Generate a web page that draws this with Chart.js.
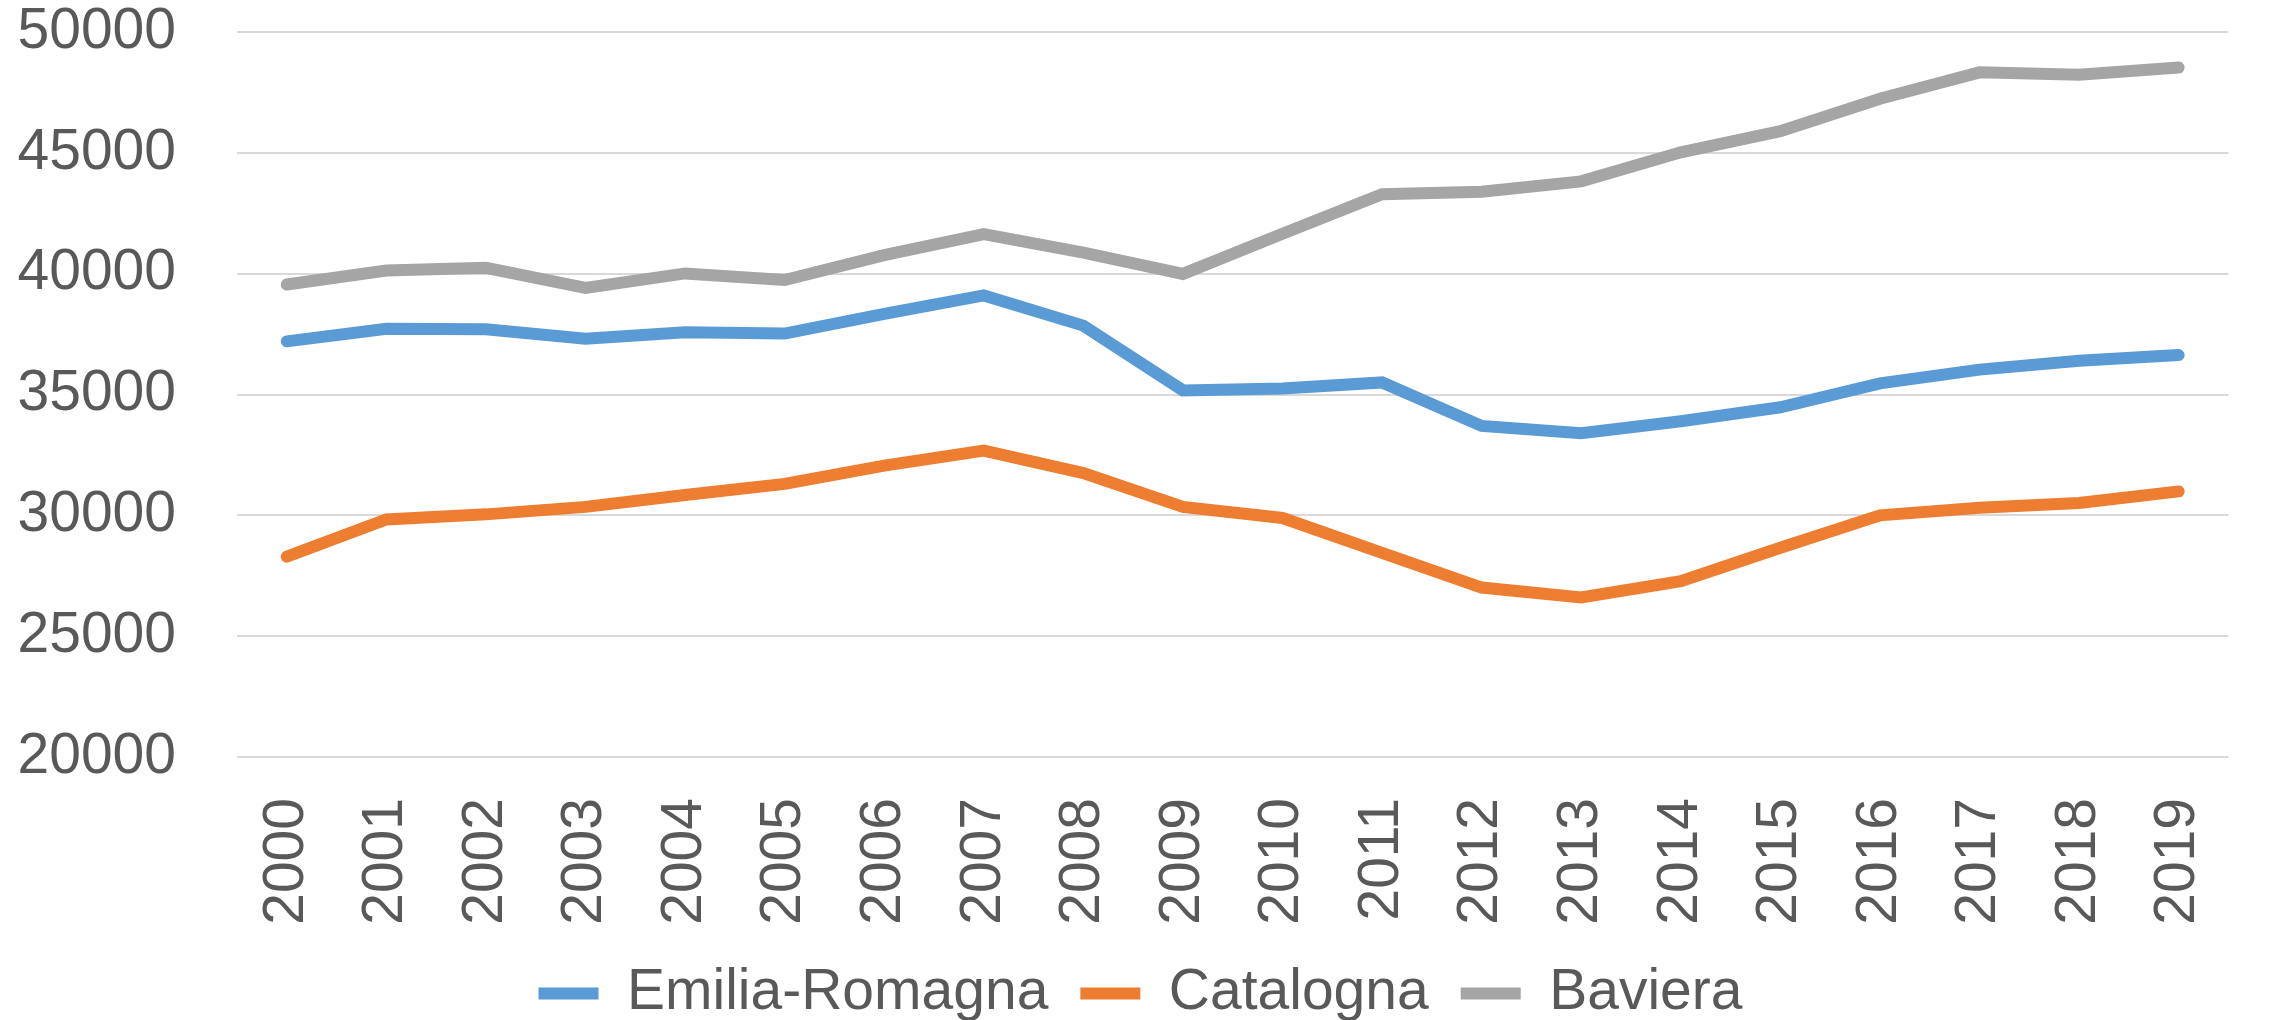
<!DOCTYPE html>
<html lang="it">
<head>
    <meta charset="UTF-8">
    <title>Emilia-Romagna, Catalogna, Baviera</title>
    <script src="https://cdn.jsdelivr.net/npm/chart.js"></script>
    <style>
        body {
            margin: 0;
            background-color: white;
        }
        .chart-container {
            position: relative;
            width: 2277px;
            height: 1020px;
        }
    </style>
</head>
<body>
    <div class="chart-container">
        <canvas id="chart"></canvas>
    </div>

    <script>
        // Years on the x axis
        const years = ['2000', '2001', '2002', '2003', '2004', '2005', '2006', '2007', '2008', '2009',
                       '2010', '2011', '2012', '2013', '2014', '2015', '2016', '2017', '2018', '2019'];

        // Values
        const emiliaRomagna = [37200, 37720, 37700, 37310, 37580, 37520, 38340, 39100, 37850, 35170,
                               35250, 35500, 33700, 33400, 33890, 34470, 35460, 36030, 36400, 36630];
        const catalogna = [28290, 29830, 30040, 30350, 30840, 31300, 32060, 32680, 31750, 30350,
                           29890, 28450, 27010, 26600, 27280, 28660, 30000, 30310, 30510, 30990];
        const baviera = [39550, 40130, 40240, 39410, 40010, 39740, 40770, 41640, 40870, 39990,
                         41650, 43290, 43390, 43820, 45020, 45900, 47240, 48330, 48230, 48530];

        const yTicks = { min: 20000, max: 50000, step: 5000 };

        const fontFamily = '"Liberation Sans", Arial, sans-serif';
        const textColor = '#595959';

        function lineDataset(label, data, color) {
            return {
                label: label,
                data: data,
                borderColor: color,
                backgroundColor: color,
                borderWidth: 12,
                borderCapStyle: 'round',
                borderJoinStyle: 'miter',
                pointRadius: 0,
                pointHoverRadius: 0,
                pointStyle: 'line',
                tension: 0,
                fill: false
            };
        }

        const ctx = document.getElementById('chart').getContext('2d');
        const chart = new Chart(ctx, {
            type: 'line',
            data: {
                labels: years,
                datasets: [
                    lineDataset('Emilia-Romagna', emiliaRomagna, '#5B9BD5'),
                    lineDataset('Catalogna', catalogna, '#ED7D31'),
                    lineDataset('Baviera', baviera, '#A5A5A5')
                ]
            },
            options: {
                responsive: true,
                maintainAspectRatio: false,
                animation: false,
                layout: {
                    autoPadding: false,
                    padding: { left: 18, right: 14, top: 32, bottom: 0 }
                },
                plugins: {
                    tooltip: { enabled: false },
                    legend: {
                        position: 'bottom',
                        maxHeight: 87,
                        labels: {
                            usePointStyle: true,
                            pointStyleWidth: 60,
                            padding: 32,
                            color: textColor,
                            font: { family: fontFamily, size: 57 }
                        }
                    }
                },
                scales: {
                    x: {
                        offset: true,
                        grid: { display: false, drawTicks: false },
                        border: { display: false },
                        afterFit: function(scale) { scale.height = 176; },
                        ticks: {
                            minRotation: 90,
                            maxRotation: 90,
                            padding: 41,
                            color: textColor,
                            font: { family: fontFamily, size: 57, lineHeight: 1 }
                        }
                    },
                    y: {
                        min: yTicks.min,
                        max: yTicks.max,
                        grid: { color: '#D9D9D9', lineWidth: 2, drawTicks: false },
                        border: { display: false },
                        afterFit: function(scale) {
                            // keep the label gap from pushing the plot down
                            scale.width = 219;
                            scale.paddingTop = 0;
                            scale.paddingBottom = 0;
                        },
                        ticks: {
                            stepSize: yTicks.step,
                            padding: 61,
                            color: textColor,
                            font: { family: fontFamily, size: 57, lineHeight: 1 },
                            callback: function(value) { return String(value); }
                        }
                    }
                }
            }
        });
    </script>
</body>
</html>
